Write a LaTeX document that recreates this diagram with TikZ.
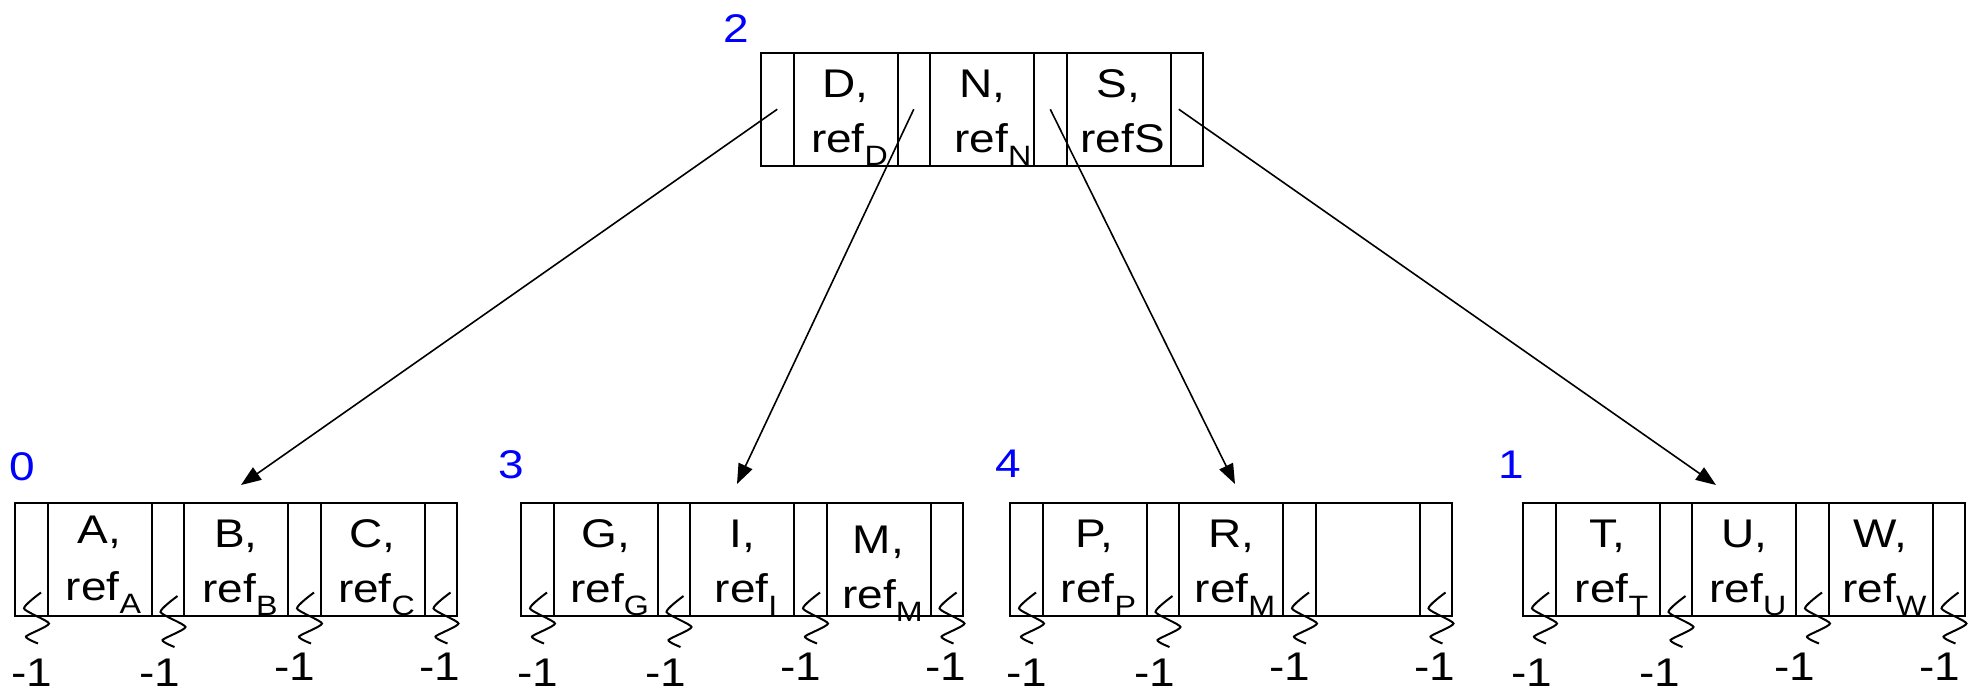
\documentclass[tikz,border=0pt]{standalone}
\usepackage{fontspec}
\setmainfont{Liberation Sans}
\usetikzlibrary{arrows.meta}
\newcommand\sbs[1]{\raisebox{-6.5pt}{\fontsize{14}{14}\selectfont #1}}
% #1 prefix, #2 left, #3 top, #4..#9 texts
\newcommand\bnode[9]{%
  \node[ptrcell] (#1-p0) at (#2+16.25,#3+56.25) {};
  \node[keycell] (#1-k1) at (#2+84.5,#3+56.25) {};
  \node[ptrcell] (#1-p1) at (#2+152.75,#3+56.25) {};
  \node[keycell] (#1-k2) at (#2+221,#3+56.25) {};
  \node[ptrcell] (#1-p2) at (#2+289.25,#3+56.25) {};
  \node[keycell] (#1-k3) at (#2+357.5,#3+56.25) {};
  \node[ptrcell] (#1-p3) at (#2+425.75,#3+56.25) {};
  \node[txt] (#1-a1) at (#2+84.5,#3+44) {#4};
  \node[txt] (#1-b1) at (#2+88.5,#3+99) {#5};
  \node[txt] (#1-a2) at (#2+221,#3+44) {#6};
  \node[txt] (#1-b2) at (#2+225,#3+99) {#7};
  \node[txt] (#1-a3) at (#2+357.5,#3+44) {#8};
  \node[txt] (#1-b3) at (#2+361.5,#3+99) {#9};
}
% #1 prefix, #2 left, #3 dx for -1 labels
\newcommand\leaves[3]{%
  \pic at (#2,615.5) {squig};
  \pic at (#2+136.5,619) {squig};
  \pic at (#2+273,615.5) {squig};
  \pic at (#2+409.5,615.5) {squig};
  \node[txt] (#1-m0) at (#2+17+#3,686) {-1};
  \node[txt] (#1-m1) at (#2+145+#3,686) {-1};
  \node[txt] (#1-m2) at (#2+280+#3,680) {-1};
  \node[txt] (#1-m3) at (#2+425+#3,680) {-1};
}
\begin{document}
\begin{tikzpicture}[x=0.5pt,y=-0.5pt,
  cellbase/.style={draw, line width=1pt, inner sep=0pt, minimum height=56.25pt},
  ptrcell/.style={cellbase, minimum width=16.25pt},
  keycell/.style={cellbase, minimum width=52pt},
  txt/.style={anchor=base, inner sep=0pt, xscale=1.15, font=\fontsize{20}{24}\selectfont},
  lvl/.style={txt, text=blue},
  arr/.style={line width=0.8pt, -{Triangle[length=10pt,width=7.5pt]}},
  squig/.pic={\draw[line width=1pt] plot[smooth, tension=0.35] coordinates {(26,-23) (9,-7) (34,8) (11,21) (23,28)};}
]
\useasboundingbox (0,0) rectangle (1977,691);

% top node
\bnode{t}{761}{53}{D,}{ref\sbs{D}}{N,}{\hspace*{6pt}ref\sbs{N}}{S,}{refS}
\node[lvl] (l2) at (736,42) {2};

% leaf nodes
\bnode{c0}{15}{503}{\raisebox{2pt}{A,}}{\raisebox{1pt}{ref\sbs{A}}}{B,}{ref\sbs{B}}{C,}{ref\sbs{C}}
\bnode{c3}{521}{503}{G,}{ref\sbs{G}}{I,}{ref\sbs{I}}{\raisebox{-3pt}{M,}}{\raisebox{-3pt}{ref\sbs{M}}}
\bnode{c4}{1010}{503}{P,}{ref\sbs{P}}{R,}{ref\sbs{M}}{}{}
\bnode{c1}{1523}{503}{T,}{ref\sbs{T}}{U,}{ref\sbs{U}}{W,}{ref\sbs{W}}

\node[lvl] (l0) at (22,480) {0};
\node[lvl] (l3) at (511,478) {3};
\node[lvl] (l4) at (1008,477) {4};
\node[lvl] (l1) at (1511,478) {1};

\leaves{c0}{15}{0}
\leaves{c3}{521}{0}
\leaves{c4}{1010}{0}
\leaves{c1}{1523}{-8}

% arrows
\draw[arr] (t-p0.center) -- ([xshift=2.5pt,yshift=8.5pt]c0-k2.north);
\draw[arr] (t-p1.center) -- ([xshift=-2.5pt,yshift=9pt]c3-k2.north);
\draw[arr] (t-p2.center) -- ([xshift=2pt,yshift=9pt]c4-k2.north);
\draw[arr] ([xshift=-4pt]t-p3.center) -- ([xshift=-14pt,yshift=8.5pt]c1-k2.north);
\end{tikzpicture}
\end{document}
